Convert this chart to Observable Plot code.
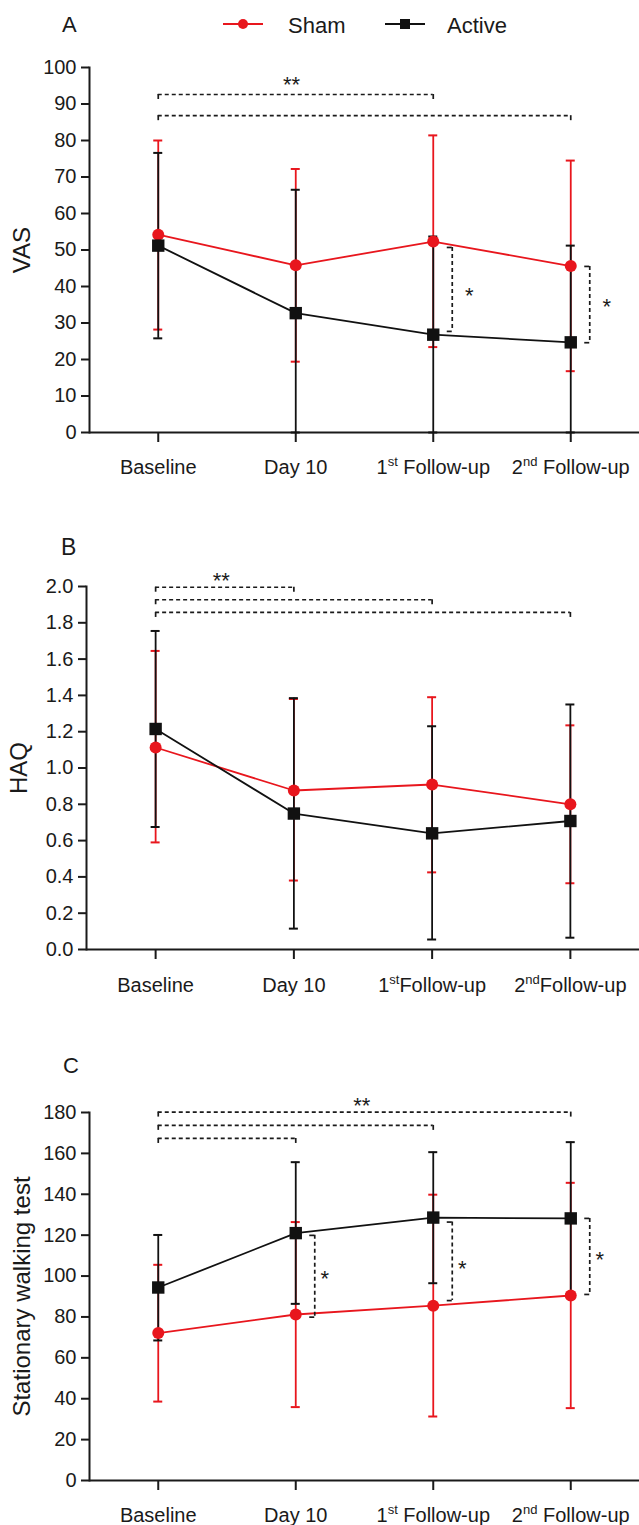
<!DOCTYPE html>
<html>
<head>
<meta charset="utf-8">
<script src="https://cdn.jsdelivr.net/npm/d3@7"></script>
<script src="https://cdn.jsdelivr.net/npm/@observablehq/plot@0.6"></script>
<style>
  html, body { margin: 0; padding: 0; background: #ffffff; }
  body { font-family: "Liberation Sans", Arial, sans-serif; }
  #wrap { position: relative; width: 639px; height: 1525px; overflow: hidden; }
  .panel { position: absolute; left: 0; }
  #overlay { position: absolute; left: 0; top: 0; pointer-events: none; }
</style>
</head>
<body>
<div id="wrap">
  <div class="panel" id="pA" style="top:0px"></div>
  <div class="panel" id="pB" style="top:500px"></div>
  <div class="panel" id="pC" style="top:1020px"></div>
  <svg id="overlay" width="639" height="1525" font-family="Liberation Sans, Arial, sans-serif" fill="#1a1a1a">
    <text x="62" y="32" font-size="22">A</text>
    <text x="61" y="555" font-size="23">B</text>
    <text x="63" y="1073" font-size="22">C</text>
    <g id="legend"></g>
  </svg>
</div>
<script>
// ---------- data ----------
const timeIndex = [0, 1, 2, 3];
const groups = ["Sham", "Active"];
const tickLabelsA = ["Baseline", "Day 10", "1st Follow-up", "2nd Follow-up"];
const tickLabelsB = ["Baseline", "Day 10", "1stFollow-up", "2ndFollow-up"];
const tickLabelsC = ["Baseline", "Day 10", "1st Follow-up", "2nd Follow-up"];

// Panel A: VAS
const vasTicks = [0, 10, 20, 30, 40, 50, 60, 70, 80, 90, 100];
const vasShamMean = [54.2, 45.8, 52.3, 45.6];
const vasShamHi = [80.0, 72.2, 81.4, 74.5];
const vasShamLo = [28.2, 19.4, 23.4, 16.8];
const vasActiveMean = [51.2, 32.7, 26.8, 24.7];
const vasActiveHi = [76.6, 66.5, 53.7, 51.2];
const vasActiveLo = [25.8, 0, 0, 0];
const vasSpans = [{from: 0, to: 2, level: 92.6}, {from: 0, to: 3, level: 86.8}];
const vasSpanStars = [{x: 0.97, y: 96.7, text: "**"}];
const vasPairs = [{x: 2, top: 50.7, bottom: 27.7, star: 38.9}, {x: 3, top: 45.5, bottom: 24.6, star: 35.9}];

// Panel B: HAQ
const haqTicks = [0, 0.2, 0.4, 0.6, 0.8, 1.0, 1.2, 1.4, 1.6, 1.8, 2.0];
const haqShamMean = [1.113, 0.876, 0.909, 0.80];
const haqShamHi = [1.645, 1.38, 1.39, 1.235];
const haqShamLo = [0.59, 0.38, 0.425, 0.365];
const haqActiveMean = [1.215, 0.749, 0.64, 0.708];
const haqActiveHi = [1.755, 1.385, 1.23, 1.35];
const haqActiveLo = [0.675, 0.115, 0.055, 0.065];
const haqSpans = [{from: 0, to: 1, level: 1.996}, {from: 0, to: 2, level: 1.927}, {from: 0, to: 3, level: 1.857}];
const haqSpanStars = [{x: 0.475, y: 2.06, text: "**"}];
const haqPairs = [];

// Panel C: Stationary walking test
const walkTicks = [0, 20, 40, 60, 80, 100, 120, 140, 160, 180];
const walkShamMean = [72.1, 81.2, 85.5, 90.5];
const walkShamHi = [105.5, 126.4, 139.8, 145.6];
const walkShamLo = [38.6, 35.9, 31.3, 35.4];
const walkActiveMean = [94.4, 121.0, 128.6, 128.2];
const walkActiveHi = [120.1, 155.7, 160.6, 165.5];
const walkActiveLo = [68.5, 86.4, 96.5, 91.3];
const walkSpans = [{from: 0, to: 3, level: 180.2}, {from: 0, to: 2, level: 173.7}, {from: 0, to: 1, level: 167.3}];
const walkSpanStars = [{x: 1.48, y: 185.5, text: "**"}];
const walkPairs = [
  {x: 1, top: 119.9, bottom: 79.9, star: 101},
  {x: 2, top: 126.4, bottom: 88.0, star: 106},
  {x: 3, top: 128.2, bottom: 91.0, star: 110.5}
];

// ---------- styles ----------
const RED = "#e8161d";
const BLACK = "#111111";
const FONT = "Liberation Sans, Arial, sans-serif";

function rows(group, mean, hi, lo) {
  return timeIndex.map((t, i) => ({t, group, mean: mean[i], hi: hi[i], lo: lo[i]}));
}

function errorBars(data, color) {
  return [
    Plot.ruleX(data, {x: "t", y1: "lo", y2: "hi", stroke: color, strokeWidth: 1.8}),
    Plot.ruleY(data, {x1: "t", x2: "t", y: "hi", insetLeft: -4.5, insetRight: -4.5, stroke: color, strokeWidth: 2}),
    Plot.ruleY(data, {x1: "t", x2: "t", y: "lo", insetLeft: -4.5, insetRight: -4.5, stroke: color, strokeWidth: 2})
  ];
}

function addSuperscripts(svg) {
  d3.select(svg).selectAll('g[aria-label="x-axis tick label"] text').each(function () {
    const s = this.textContent;
    const m = s.match(/^(\d)(st|nd|rd|th)(.*)$/);
    if (!m) return;
    const t = d3.select(this);
    t.text(null);
    t.append("tspan").text(m[1]);
    t.append("tspan").attr("dy", "-8").attr("font-size", "13").text(m[2]);
    t.append("tspan").attr("dy", "8").text(m[3]);
  });
}

function makePanel(cfg) {
  const sham = rows("Sham", cfg.shamMean, cfg.shamHi, cfg.shamLo);
  const active = rows("Active", cfg.activeMean, cfg.activeHi, cfg.activeLo);
  const yMax = cfg.yTicks[cfg.yTicks.length - 1];
  const u = yMax / (cfg.height - cfg.marginTop - cfg.marginBottom); // data units per pixel
  const tick = 5 * u;
  const dash = "4,3";
  const marks = [
    Plot.axisY({ticks: cfg.yTicks, tickFormat: cfg.yFormat, tickSize: 8, tickPadding: 5, fontSize: 20, label: null, strokeWidth: 2}),
    Plot.axisX({ticks: timeIndex, tickFormat: i => cfg.tickLabels[i], tickSize: 10, tickPadding: cfg.xPad, fontSize: 20, label: null, strokeWidth: 2}),
    Plot.frame({anchor: "left", strokeWidth: 2}),
    Plot.ruleY([0], {strokeWidth: 2}),
    Plot.text([cfg.yLabel], {frameAnchor: "left", textAnchor: "middle", rotate: -90, dx: -67, fontSize: 24, text: d => d}),
    Plot.ruleY(cfg.spans, {x1: "from", x2: "to", y: "level", strokeDasharray: dash, strokeWidth: 1.7}),
    Plot.ruleX(cfg.spans, {x: "from", y1: "level", y2: d => d.level - tick, strokeWidth: 1.7}),
    Plot.ruleX(cfg.spans, {x: "to", y1: "level", y2: d => d.level - tick, strokeWidth: 1.7}),
    Plot.text(cfg.spanStars, {x: "x", y: "y", text: "text", fontSize: 22, dy: 5}),
    ...errorBars(sham, RED),
    ...errorBars(active, BLACK),
    Plot.line(sham, {x: "t", y: "mean", stroke: RED, strokeWidth: 1.8}),
    Plot.line(active, {x: "t", y: "mean", stroke: BLACK, strokeWidth: 1.8}),
    Plot.dot(sham, {x: "t", y: "mean", r: 6, fill: RED, symbol: "circle"}),
    Plot.dot(active, {x: "t", y: "mean", r: 7, fill: BLACK, symbol: "square"}),
    Plot.ruleX(cfg.pairs, {x: "x", y1: "top", y2: "bottom", dx: 19, strokeDasharray: dash, strokeWidth: 1.7}),
    Plot.ruleY(cfg.pairs, {x1: "x", x2: "x", y: "top", dx: 19, insetLeft: -5, insetRight: 0, strokeWidth: 1.7}),
    Plot.ruleY(cfg.pairs, {x1: "x", x2: "x", y: "bottom", dx: 19, insetLeft: -5, insetRight: 0, strokeWidth: 1.7}),
    Plot.text(cfg.pairs, {x: "x", y: "star", text: () => "*", dx: cfg.starDx, dy: 5, fontSize: 22})
  ];
  const svg = Plot.plot({
    width: 639,
    height: cfg.height,
    marginLeft: cfg.marginLeft,
    marginRight: 0,
    marginTop: cfg.marginTop,
    marginBottom: cfg.marginBottom,
    style: {fontFamily: FONT, fontSize: "20px", color: "#1a1a1a", background: "transparent", overflow: "visible"},
    x: {type: "linear", domain: [-0.5, 3.5]},
    y: {domain: [0, yMax]},
    marks
  });
  addSuperscripts(svg);
  document.getElementById(cfg.target).appendChild(svg);
}

makePanel({
  target: "pA", height: 500, marginTop: 67, marginBottom: 68, marginLeft: 89, xPad: 17,
  yTicks: vasTicks, yFormat: d3.format("d"), yLabel: "VAS", tickLabels: tickLabelsA,
  shamMean: vasShamMean, shamHi: vasShamHi, shamLo: vasShamLo,
  activeMean: vasActiveMean, activeHi: vasActiveHi, activeLo: vasActiveLo,
  spans: vasSpans, spanStars: vasSpanStars, pairs: vasPairs, starDx: 36
});
makePanel({
  target: "pB", height: 520, marginTop: 86, marginBottom: 71, marginLeft: 86, xPad: 18,
  yTicks: haqTicks, yFormat: d3.format(".1f"), yLabel: "HAQ", tickLabels: tickLabelsB,
  shamMean: haqShamMean, shamHi: haqShamHi, shamLo: haqShamLo,
  activeMean: haqActiveMean, activeHi: haqActiveHi, activeLo: haqActiveLo,
  spans: haqSpans, spanStars: haqSpanStars, pairs: haqPairs, starDx: 30
});
makePanel({
  target: "pC", height: 505, marginTop: 92, marginBottom: 45, marginLeft: 89, xPad: 17,
  yTicks: walkTicks, yFormat: d3.format("d"), yLabel: "Stationary walking test", tickLabels: tickLabelsC,
  shamMean: walkShamMean, shamHi: walkShamHi, shamLo: walkShamLo,
  activeMean: walkActiveMean, activeHi: walkActiveHi, activeLo: walkActiveLo,
  spans: walkSpans, spanStars: walkSpanStars, pairs: walkPairs, starDx: 29
});

// ---------- legend ----------
const legendItems = [
  {label: groups[0], color: RED, symbol: "circle", lx: 223, tx: 288},
  {label: groups[1], color: BLACK, symbol: "square", lx: 385, tx: 447}
];
const lg = d3.select("#legend");
legendItems.forEach(it => {
  const g = lg.append("g");
  g.append("line").attr("x1", it.lx).attr("x2", it.lx + 40).attr("y1", 24).attr("y2", 24)
    .attr("stroke", it.color).attr("stroke-width", 2);
  if (it.symbol === "circle") {
    g.append("circle").attr("cx", it.lx + 20).attr("cy", 24).attr("r", 5).attr("fill", it.color);
  } else {
    g.append("rect").attr("x", it.lx + 15).attr("y", 19).attr("width", 10).attr("height", 10).attr("fill", it.color);
  }
  g.append("text").attr("x", it.tx).attr("y", 33).attr("font-size", 22).attr("fill", "#1a1a1a").text(it.label);
});
</script>
</body>
</html>
